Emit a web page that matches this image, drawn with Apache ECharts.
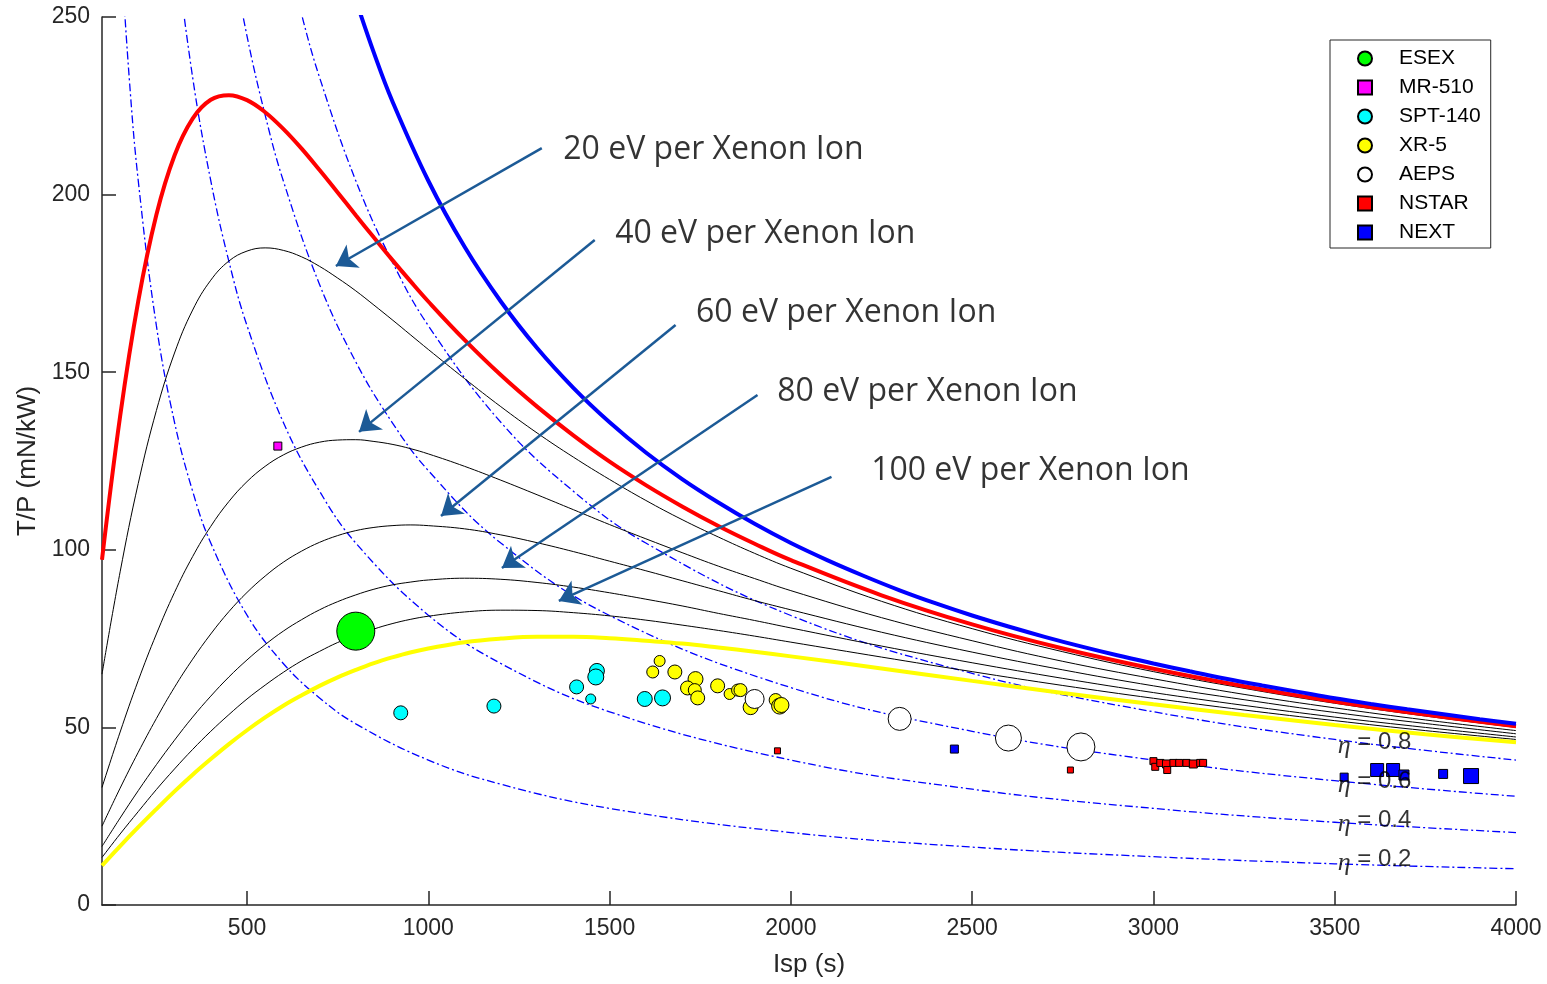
<!DOCTYPE html>
<html>
<head>
<meta charset="utf-8">
<script src="https://cdn.jsdelivr.net/npm/echarts@6/dist/echarts.min.js"></script>
<style>html,body{margin:0;background:#fff}#main{width:1547px;height:984px}</style>
</head>
<body>
<div id="main"></div>
<script>
// Isp grid for the ion-cost curves
const ispGrid = [100,150,200,250,300,350,400,450,500,550,600,650,700,750,800,850,900,950,1000,
  1100,1200,1300,1400,1500,1600,1700,1800,1900,2000,2250,2500,2750,3000,3250,3500,3750,4000];
const tpRed    = [97.2,137.6,170.0,194.3,211.0,221.4,226.7,228.0,226.6,223.2,218.5,213.0,206.9,200.6,194.2,187.9,181.7,175.7,169.9,
  159.1,149.2,140.3,132.2,124.8,118.2,112.2,106.7,101.7,97.1,87.2,79.0,72.2,66.5,61.6,57.3,53.6,50.3];
const tp20     = [65.0,93.8,118.7,139.2,155.4,167.5,175.9,181.3,184.1,185.0,184.3,182.5,179.8,176.5,172.9,168.9,164.8,160.6,156.4,
  148.2,140.3,132.9,126.1,119.8,113.9,108.5,103.6,99.0,94.8,85.5,77.8,71.3,65.7,61.0,56.8,53.2,50.0];
const tp40     = [33.1,48.7,63.2,76.3,88.0,98.1,106.6,113.6,119.2,123.5,126.7,128.9,130.3,130.9,131.0,130.5,129.7,128.5,127.0,
  123.5,119.6,115.5,111.3,107.1,103.1,99.2,95.4,91.9,88.5,80.9,74.4,68.6,63.7,59.3,55.5,52.1,49.1];
const tp60     = [22.2,32.9,43.0,52.5,61.3,69.2,76.3,82.6,88.0,92.6,96.5,99.6,102.1,104.0,105.4,106.3,106.8,107.0,106.8,
  105.9,104.2,102.0,99.5,96.8,94.1,91.3,88.5,85.7,83.1,76.8,71.2,66.2,61.7,57.8,54.2,51.1,48.2];
const tp80     = [16.5,24.5,32.2,39.5,46.4,52.9,58.8,64.2,69.0,73.3,77.1,80.3,83.1,85.4,87.3,88.9,90.1,90.9,91.5,
  92.0,91.7,90.8,89.5,87.9,86.1,84.2,82.1,80.1,78.0,72.9,68.2,63.8,59.8,56.2,52.9,50.0,47.3];
const tp100    = [13.4,20.0,26.3,32.5,38.3,43.8,48.9,53.6,58.0,61.9,65.5,68.7,71.4,73.9,75.9,77.7,79.2,80.4,81.3,
  82.5,83.0,82.9,82.3,81.4,80.2,78.8,77.3,75.7,74.0,69.8,65.7,61.8,58.2,54.9,51.9,49.1,46.6];
const tpYellow = [11.1,16.6,21.9,27.0,32.0,36.7,41.1,45.3,49.2,52.8,56.1,59.0,61.7,64.1,66.2,68.1,69.7,71.1,72.2,
  74.0,75.0,75.5,75.5,75.1,74.4,73.6,72.5,71.3,70.0,66.6,63.1,59.7,56.5,53.5,50.7,48.1,45.8];

// eta = 1 (blue) and the dash-dot efficiency lines
const ispEta10 = [800,850,900,1000,1100,1200,1300,1400,1500,1600,1700,1800,1900,2000,2100,2200,2300,2400,2500,
  2600,2700,2800,2900,3000,3100,3200,3300,3400,3500,3600,3700,3800,3900,4000];
const tpEta10  = [254.8,239.9,226.5,203.9,185.3,169.9,156.8,145.6,135.9,127.4,119.9,113.3,107.3,101.9,97.1,92.7,88.6,84.9,81.5,
  78.4,75.5,72.8,70.3,68.0,65.8,63.7,61.8,60.0,58.2,56.6,55.1,53.7,52.3,51.0];
const ispEta08 = [600,650,700,800,900,1000,1200,1400,1600,2000,2500,3000,3500,4000];
const tpEta08  = [271.8,250.9,233.0,203.9,181.2,163.1,135.9,116.5,101.9,81.5,65.2,54.4,46.6,40.8];
const ispEta06 = [450,500,550,600,700,800,900,1000,1200,1500,2000,2500,3000,3500,4000];
const tpEta06  = [271.8,244.6,222.4,203.9,174.7,152.9,135.9,122.3,101.9,81.5,61.2,48.9,40.8,35.0,30.6];
const ispEta04 = [300,350,400,450,500,600,700,800,1000,1200,1500,2000,2500,3000,3500,4000];
const tpEta04  = [271.8,233.0,203.9,181.2,163.1,135.9,116.5,101.9,81.6,68.0,54.4,40.8,32.6,27.2,23.3,20.4];
const ispEta02 = [150,175,200,250,300,350,400,500,600,700,800,1000,1200,1500,2000,2500,3000,3500,4000];
const tpEta02  = [271.8,233.0,203.9,163.1,135.9,116.5,101.9,81.6,68.0,58.3,51.0,40.8,34.0,27.2,20.4,16.3,13.6,11.6,10.2];

// thrusters
const esexIsp = [800];  const esexTp = [77.1];
const mrIsp = [585];    const mrTp = [129.2];
const sptIsp = [924,1181,1409,1448,1465,1462,1597,1646];
const sptTp  = [54.1,56.0,61.4,58.0,65.9,64.2,58.0,58.3];
const xrIsp = [1638,1619,1680,1737,1715,1735,1743,1798,1831,1853,1861,1889,1958,1969,1974];
const xrTp  = [68.7,65.6,65.6,63.6,61.1,60.5,58.3,61.7,59.4,60.5,60.5,55.7,57.7,56.0,56.3];
const aepsIsp = [1900,2300,2600,2800];
const aepsTp  = [58.0,52.4,47.0,44.5];
const nstarIsp = [1963,2771,3000,3005,3019,3036,3038,3055,3071,3091,3110,3129,3137];
const nstarTp  = [43.4,38.0,40.5,38.9,40.0,39.7,38.0,40.0,40.0,40.0,39.7,40.0,40.0];
const nextIsp = [2451,3526,3617,3661,3691,3799,3876];
const nextTp  = [43.9,36.0,38.0,38.0,36.6,36.9,36.3];

// marker diameters (px)
const esexSz = [38];
const mrSz = [8];
const sptSz = [14,14,14,10,15,16,15,16];
const xrSz = [11,12,14,15,14,13,14,14,11,12,13,15,13,16,15];
const aepsSz = [19,23,26,28];
const nstarSz = [6,6,7,7,7,8,7,7,7,7,8,7,7];
const nextSz = [8,8,13,13,10,9,15];

const xTicks = [500,1000,1500,2000,2500,3000,3500,4000];

const noteText = ['20 eV per Xenon Ion','40 eV per Xenon Ion','60 eV per Xenon Ion','80 eV per Xenon Ion','100 eV per Xenon Ion'];
const noteIsp = [1371,1514,1737,1961,2220];
const noteTp = [212.6,189.0,166.7,144.4,122.2];
const arrowFrom = [[1313,213.1],[1459,187.2],[1682,163.3],[1908,143.6],[2112,120.5]];
const arrowTo   = [[745,179.9],[809,133.2],[1035,109.5],[1203,94.9],[1360,85.6]];

const etaText = ['0.8','0.6','0.4','0.2'];
const etaIsp = [3507,3507,3507,3507];
const etaTp = [45.9,34.9,23.9,12.9];

function pairs(xs, ys) { return xs.map((x, i) => [x, ys[i]]); }

let myChart = echarts.init(document.getElementById('main'));

function curve(xs, ys, color, width, dash) {
  return {
    type: 'line', data: pairs(xs, ys), showSymbol: false, symbol: 'none',
    smooth: 0.4, silent: true, z: 2,
    lineStyle: { color: color, width: width, type: dash || 'solid' }
  };
}

function dots(name, xs, ys, sz, color, shape) {
  return {
    type: 'scatter', name: name, data: pairs(xs, ys), symbol: shape,
    symbolSize: (v, p) => sz[p.dataIndex], z: 5,
    itemStyle: { color: color, borderColor: '#000', borderWidth: 1, opacity: 1 }
  };
}

const dashDot = [8, 3, 2, 3];
const axisFont = 'Liberation Sans, Arial, sans-serif';

let option = {
  animation: false,
  backgroundColor: '#fff',
  grid: { left: 102, right: 31, top: 17, bottom: 79 },
  xAxis: {
    type: 'value', min: 100, max: 4000,
    name: 'Isp (s)', nameLocation: 'middle', nameGap: 47,
    nameTextStyle: { fontSize: 26, color: '#262626', fontFamily: axisFont },
    axisLine: { show: true, onZero: false, lineStyle: { color: '#262626', width: 1.5 } },
    axisTick: { show: true, inside: true, length: 14, customValues: xTicks, lineStyle: { color: '#262626', width: 1.5 } },
    axisLabel: { customValues: xTicks, formatter: v => String(v), fontSize: 23, color: '#262626', margin: 12, fontFamily: axisFont },
    splitLine: { show: false }
  },
  yAxis: {
    type: 'value', min: 0, max: 250, interval: 50,
    name: 'T/P (mN/kW)', nameLocation: 'middle', nameGap: 60,
    nameTextStyle: { fontSize: 26, color: '#262626', fontFamily: axisFont },
    axisLine: { show: true, lineStyle: { color: '#262626', width: 1.5 } },
    axisTick: { show: true, inside: true, length: 14, lineStyle: { color: '#262626', width: 1.5 } },
    axisLabel: { formatter: v => String(v), fontSize: 23, color: '#262626', margin: 12, fontFamily: axisFont },
    splitLine: { show: false }
  },
  legend: {
    data: [
      { name: 'ESEX', icon: 'circle' }, { name: 'MR-510', icon: 'rect' },
      { name: 'SPT-140', icon: 'circle' }, { name: 'XR-5', icon: 'circle' },
      { name: 'AEPS', icon: 'circle' }, { name: 'NSTAR', icon: 'rect' },
      { name: 'NEXT', icon: 'rect' }
    ],
    orient: 'vertical', left: 1330, top: 40,
    itemWidth: 14, itemHeight: 14, itemGap: 8,
    padding: [8, 10, 5, 27],
    borderColor: '#262626', borderWidth: 1, backgroundColor: '#fff',
    selectedMode: false,
    textStyle: { fontSize: 21, color: '#000', fontFamily: axisFont, padding: [0, 0, 0, 22] }
  },
  series: [
    curve(ispEta02, tpEta02, '#0000ff', 1.3, dashDot),
    curve(ispEta04, tpEta04, '#0000ff', 1.3, dashDot),
    curve(ispEta06, tpEta06, '#0000ff', 1.3, dashDot),
    curve(ispEta08, tpEta08, '#0000ff', 1.3, dashDot),
    curve(ispGrid, tp20, '#000', 1),
    curve(ispGrid, tp40, '#000', 1),
    curve(ispGrid, tp60, '#000', 1),
    curve(ispGrid, tp80, '#000', 1),
    curve(ispGrid, tp100, '#000', 1),
    curve(ispGrid, tpYellow, '#ffff00', 4),
    curve(ispGrid, tpRed, '#ff0000', 4),
    curve(ispEta10, tpEta10, '#0000ff', 4),
    dots('ESEX', esexIsp, esexTp, esexSz, '#00ff00', 'circle'),
    dots('MR-510', mrIsp, mrTp, mrSz, '#ff00ff', 'rect'),
    dots('SPT-140', sptIsp, sptTp, sptSz, '#00ffff', 'circle'),
    dots('XR-5', xrIsp, xrTp, xrSz, '#ffff00', 'circle'),
    dots('AEPS', aepsIsp, aepsTp, aepsSz, '#ffffff', 'circle'),
    dots('NSTAR', nstarIsp, nstarTp, nstarSz, '#ff0000', 'rect'),
    dots('NEXT', nextIsp, nextTp, nextSz, '#0000ff', 'rect'),
    {
      // eV labels with their arrows
      type: 'scatter', name: 'notes', silent: true, z: 6,
      data: pairs(noteIsp, noteTp),
      symbolSize: 1, itemStyle: { color: 'rgba(0,0,0,0)' },
      label: {
        show: true, position: 'right', distance: 0,
        formatter: p => noteText[p.dataIndex],
        fontFamily: 'Open Sans', fontSize: 32, color: '#000'
      },
      markLine: {
        silent: true, symbol: ['none', 'arrow'], symbolSize: 20,
        label: { show: false },
        lineStyle: { color: '#1c5a96', width: 2.5, type: 'solid' },
        itemStyle: { color: '#1c5a96' },
        data: arrowFrom.map((a, i) => [{ coord: a }, { coord: arrowTo[i] }])
      }
    },
    {
      type: 'scatter', name: 'eta', silent: true, z: 7,
      data: pairs(etaIsp, etaTp),
      symbolSize: 1, itemStyle: { color: 'rgba(0,0,0,0)' },
      label: {
        show: true, position: 'right', distance: 0,
        formatter: p => '{e|η}{v| = ' + etaText[p.dataIndex] + '}',
        rich: {
          e: { fontFamily: 'Liberation Serif', fontStyle: 'italic', fontSize: 26, color: '#000', padding: [8, 0, 0, 0] },
          v: { fontFamily: axisFont, fontSize: 24, color: '#000' }
        }
      }
    }
  ]
};

myChart.setOption(option);
</script>
</body>
</html>
